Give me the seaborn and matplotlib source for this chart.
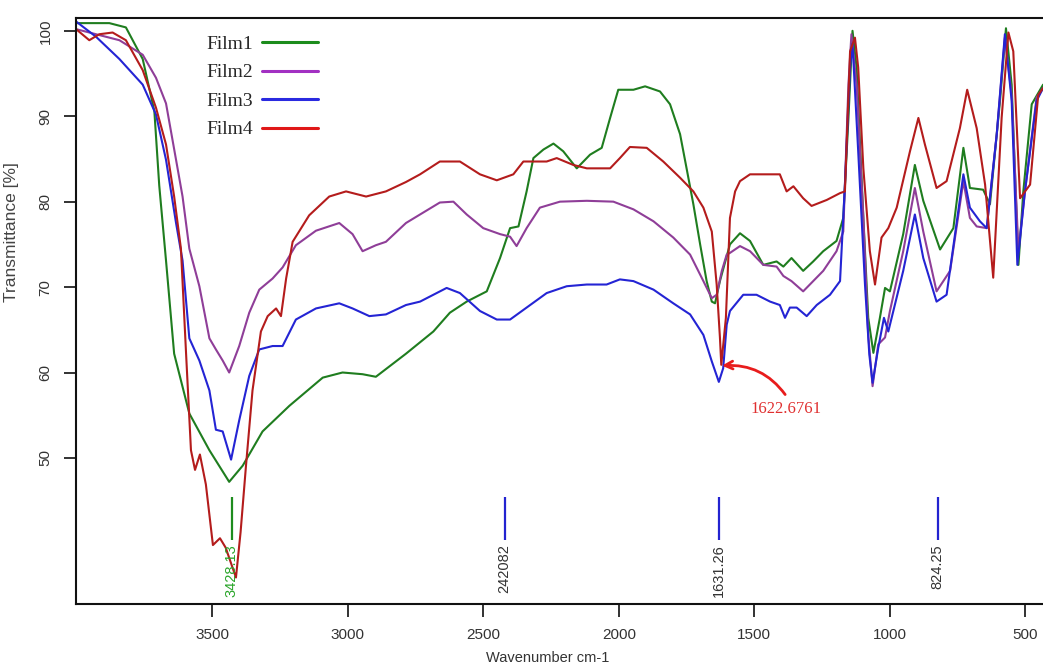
import numpy as np
import pandas as pd
import matplotlib
matplotlib.use("Agg")
import matplotlib.pyplot as plt
import seaborn as sns
from matplotlib.lines import Line2D

# ---------------- data ----------------
film1_wn = [4002, 3879, 3818, 3756, 3713, 3695, 3670, 3640, 3584, 3510, 3437, 3387, 3314, 3215, 3092,
            3019, 2945, 2896, 2785, 2684, 2623, 2561, 2487, 2438, 2401, 2370, 2340, 2315, 2278, 2241,
            2205, 2155, 2106, 2063, 2032, 2002, 1946, 1903, 1848, 1811, 1774, 1750, 1725, 1700, 1676,
            1657, 1645, 1627, 1590, 1553, 1516, 1467, 1418, 1393, 1363, 1320, 1283, 1246, 1197, 1172,
            1153, 1138, 1123, 1098, 1080, 1061, 1037, 1018, 1000, 951, 908, 877, 815, 766, 729,
            705, 656, 631, 594, 572, 551, 526, 508, 477, 435]
film1_t = [100.9, 100.9, 100.4, 96.7, 90.6, 81.9, 73.1, 62.2, 55.2, 50.9, 47.2, 49.1, 53.1, 56.1, 59.4,
           60.0, 59.8, 59.5, 62.2, 64.8, 67.0, 68.3, 69.5, 73.4, 76.9, 77.1, 81.2, 85.1, 86.1, 86.8,
           85.9, 83.9, 85.5, 86.3, 89.8, 93.1, 93.1, 93.5, 92.9, 91.4, 87.9, 83.9, 79.7, 75.0, 70.7,
           68.3, 68.1, 70.7, 75.0, 76.3, 75.4, 72.6, 73.0, 72.4, 73.4, 71.9, 73.0, 74.2, 75.4, 78.1,
           89.8, 100.0, 95.7, 78.1, 66.4, 62.3, 66.4, 69.9, 69.5, 76.2, 84.3, 80.1, 74.4, 76.9, 86.3,
           81.6, 81.4, 79.7, 91.8, 100.3, 93.7, 72.6, 81.2, 91.4, 93.7]

film2_wn = [4002, 3928, 3842, 3756, 3707, 3670, 3633, 3609, 3584, 3547, 3510, 3486, 3461, 3437, 3400,
            3363, 3326, 3277, 3240, 3191, 3117, 3031, 2982, 2945, 2896, 2859, 2785, 2733, 2660, 2610,
            2561, 2500, 2438, 2401, 2377, 2340, 2291, 2217, 2118, 2020, 1946, 1872, 1799, 1737, 1688,
            1657, 1639, 1620, 1602, 1590, 1553, 1516, 1467, 1418, 1393, 1363, 1320, 1283, 1246, 1197,
            1172, 1153, 1142, 1123, 1098, 1080, 1064, 1043, 1018, 1000, 951, 908, 877, 828, 778,
            729, 705, 680, 643, 606, 576, 551, 526, 502, 459, 435]
film2_t = [100.2, 99.6, 98.9, 97.2, 94.5, 91.5, 84.9, 80.6, 74.5, 70.1, 64.0, 62.7, 61.4, 60.0, 63.1,
           67.0, 69.7, 71.0, 72.3, 74.9, 76.6, 77.5, 76.2, 74.2, 74.9, 75.3, 77.5, 78.5, 79.9, 80.0,
           78.5, 76.9, 76.2, 75.9, 74.8, 76.9, 79.3, 80.0, 80.1, 80.0, 79.1, 77.7, 75.8, 73.8, 70.7,
           68.7, 69.1, 71.9, 73.8, 74.0, 74.8, 74.2, 72.6, 72.4, 71.3, 70.7, 69.5, 70.7, 71.9, 74.2,
           76.5, 93.7, 99.6, 93.7, 78.1, 64.4, 58.4, 63.3, 64.1, 67.2, 74.2, 81.6, 76.5, 69.5, 71.9,
           82.4, 78.1, 77.1, 76.9, 87.9, 99.2, 92.5, 74.2, 81.2, 92.2, 93.3]

film3_wn = [4002, 3928, 3842, 3756, 3707, 3670, 3633, 3609, 3584, 3547, 3510, 3486, 3461, 3430, 3400,
            3363, 3326, 3277, 3240, 3191, 3117, 3031, 2982, 2920, 2859, 2785, 2733, 2635, 2586, 2512,
            2450, 2401, 2340, 2266, 2192, 2118, 2045, 1996, 1946, 1872, 1799, 1737, 1688, 1657, 1631,
            1615, 1602, 1590, 1541, 1492, 1442, 1406, 1387, 1369, 1344, 1307, 1270, 1221, 1184, 1166,
            1147, 1138, 1117, 1092, 1076, 1064, 1043, 1022, 1006, 951, 908, 877, 828, 791, 729,
            705, 668, 643, 606, 576, 551, 530, 502, 459, 435]
film3_t = [101.1, 99.3, 96.7, 93.7, 90.2, 84.9, 77.5, 73.1, 64.0, 61.4, 57.9, 53.3, 53.1, 49.8, 54.4,
           59.6, 62.7, 63.1, 63.1, 66.2, 67.5, 68.1, 67.5, 66.6, 66.8, 67.9, 68.3, 69.9, 69.3, 67.2,
           66.2, 66.2, 67.6, 69.3, 70.1, 70.3, 70.3, 70.9, 70.7, 69.7, 68.1, 66.8, 64.4, 61.3, 58.9,
           60.5, 65.6, 67.2, 69.1, 69.1, 68.3, 67.9, 66.4, 67.6, 67.6, 66.6, 67.9, 69.1, 70.7, 82.0,
           95.7, 98.5, 85.9, 70.3, 62.1, 58.8, 62.9, 66.4, 64.8, 71.9, 78.5, 73.4, 68.3, 69.1, 83.2,
           79.3, 77.7, 76.9, 87.9, 99.6, 91.8, 72.6, 81.2, 91.8, 93.3]

film4_wn = [4002, 3953, 3916, 3867, 3818, 3756, 3707, 3670, 3640, 3615, 3596, 3578, 3563, 3545, 3523,
            3497, 3471, 3450, 3412, 3395, 3375, 3351, 3320, 3295, 3264, 3246, 3227, 3203, 3142, 3068,
            3006, 2932, 2859, 2785, 2733, 2660, 2586, 2512, 2450, 2389, 2352, 2266, 2229, 2168, 2118,
            2032, 1996, 1959, 1897, 1836, 1774, 1725, 1688, 1657, 1639, 1627, 1622, 1605, 1590, 1571,
            1553, 1516, 1467, 1406, 1381, 1356, 1320, 1289, 1233, 1184, 1166, 1147, 1129, 1117, 1098,
            1074, 1055, 1031, 1006, 975, 926, 895, 871, 828, 791, 742, 715, 680, 649, 619,
            588, 563, 545, 520, 483, 453, 435]
film4_t = [100.2, 98.9, 99.6, 99.8, 98.9, 95.4, 91.0, 86.7, 80.6, 74.5, 62.2, 50.9, 48.6, 50.4, 46.9,
           39.8, 40.6, 39.5, 36.0, 41.3, 49.1, 57.9, 64.8, 66.6, 67.5, 66.6, 71.0, 75.3, 78.4, 80.6,
           81.2, 80.6, 81.2, 82.3, 83.2, 84.7, 84.7, 83.2, 82.5, 83.2, 84.7, 84.7, 85.1, 84.3, 83.9,
           83.9, 85.1, 86.4, 86.3, 84.7, 82.8, 81.2, 79.3, 76.5, 70.3, 64.1, 60.9, 66.4, 78.1, 81.2,
           82.4, 83.2, 83.2, 83.2, 81.2, 81.8, 80.4, 79.5, 80.2, 81.0, 81.2, 97.6, 99.2, 95.7, 83.9,
           74.2, 70.3, 75.8, 76.9, 79.3, 85.9, 89.8, 86.7, 81.6, 82.4, 88.6, 93.1, 88.6, 82.0, 71.1,
           89.8, 99.8, 97.6, 80.4, 82.0, 92.5, 93.3]

series_names = ["Film1", "Film2", "Film3", "Film4"]
curve_colors = ["#1f7d1f", "#8f3e98", "#2424d4", "#b41c1c"]
legend_colors = ["#1c8c1c", "#a230c2", "#2a2ae0", "#e01818"]

peak_wn = [3428.13, 2420.82, 1631.26, 824.25]
peak_text = ["3428.13", "242082", "1631.26", "824.25"]
peak_line_colors = ["#1e8c1e", "#2323d0", "#2323d0", "#2323d0"]
peak_text_colors = ["#2aa52a", "#333333", "#333333", "#333333"]

annot_label = "1622.6761"
annot_xy = (1619.5, 60.8)
annot_text_xy = (1383.0, 55.7)

x_ticks = [3500, 3000, 2500, 2000, 1500, 1000, 500]
y_ticks = [50, 60, 70, 80, 90, 100]

# ---------------- long-form table ----------------
frames = []
for name, wn, t in zip(series_names,
                       [film1_wn, film2_wn, film3_wn, film4_wn],
                       [film1_t, film2_t, film3_t, film4_t]):
    frames.append(pd.DataFrame({"Wavenumber": wn, "Transmittance": t, "Film": name}))
df = pd.concat(frames, ignore_index=True)

# ---------------- style ----------------
sns.set_style("white")
plt.rcParams["font.family"] = ["Liberation Sans", "DejaVu Sans"]

fig = plt.figure(figsize=(10.43, 6.68), dpi=100)
ax = fig.add_axes([76 / 1043, 64 / 668, 976.6 / 1043, 586 / 668])

sns.lineplot(data=df, x="Wavenumber", y="Transmittance", hue="Film",
             palette=dict(zip(series_names, curve_colors)), estimator=None,
             sort=False, linewidth=1.5, legend=False, ax=ax)

ax.set_xlim(4002, 400)
ax.set_ylim(32.9, 101.5)
ax.set_xticks(x_ticks)
ax.set_yticks(y_ticks)
ax.set_xticklabels([str(v) for v in x_ticks])
ax.set_yticklabels([str(v) for v in y_ticks], rotation=90, va="center")

for s in ax.spines.values():
    s.set_linewidth(1.5)
    s.set_color("#111111")

ax.tick_params(axis="both", direction="out", length=9, width=1.3, color="#222222",
               labelsize=11, labelcolor="#333333", pad=8)
ax.tick_params(axis="x", bottom=True)
ax.tick_params(axis="y", left=True)

ax.set_xlabel("Wavenumber cm-1", fontsize=10.5, color="#333333")
ax.set_ylabel("Transmittance [%]", fontsize=12.5, color="#444444")
ax.xaxis.set_label_coords(0.483, -0.080)
ax.yaxis.set_label_coords(-0.058, 0.635)

# peak markers
for w, lab, lc, tc in zip(peak_wn, peak_text, peak_line_colors, peak_text_colors):
    ax.vlines(w, 40.4, 45.4, colors=lc, linewidth=1.6)
    ax.text(w, 39.9, lab, rotation=90, ha="center", va="top", fontsize=10.5, color=tc)

# annotation with curved arrow
ax.annotate(annot_label, xy=annot_xy, xytext=annot_text_xy,
            ha="center", va="center", fontsize=12, color="#e03030",
            family=["Liberation Serif", "DejaVu Serif"],
            arrowprops=dict(arrowstyle="->", color="#e81c1c", lw=2.0,
                            connectionstyle="arc3,rad=0.3",
                            relpos=(0.55, 1.0), shrinkA=3, shrinkB=0,
                            mutation_scale=14))

# legend
handles = [Line2D([0], [0], color=c, lw=2.2) for c in legend_colors]
ax.legend(handles, series_names, loc="upper left", bbox_to_anchor=(0.1235, 0.987),
          frameon=False, markerfirst=False, handlelength=2.9, handletextpad=0.45,
          labelspacing=0.56, borderpad=0.0,
          prop={"family": ["Liberation Serif", "DejaVu Serif"], "size": 14})

fig.savefig("out.png", dpi=100)
